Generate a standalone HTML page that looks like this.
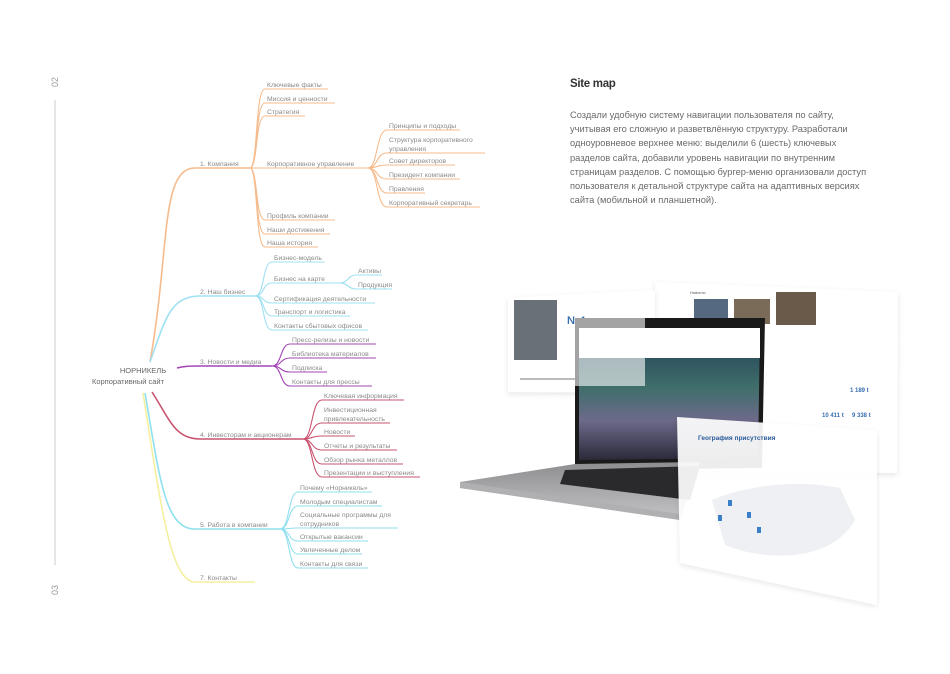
<!DOCTYPE html>
<html><head><meta charset="utf-8"><style>
html,body{margin:0;padding:0;background:#fff;}
body{width:950px;height:674px;overflow:hidden;position:relative;font-family:"Liberation Sans","DejaVu Sans",sans-serif;}
svg text{font-family:"Liberation Sans","DejaVu Sans",sans-serif;}
.t{font-size:6.8px;fill:#8a8a8a;}
.p{position:absolute;left:570px;top:108px;width:300px;font-size:9.3px;line-height:14.2px;color:#6a6a6a;}
.h{position:absolute;left:570px;top:78px;font-size:11.5px;font-weight:bold;color:#333;letter-spacing:-0.3px;}
</style></head><body>
<div class="h">Site map</div>
<div class="p">Создали удобную систему навигации пользователя по сайту, учитывая его сложную и разветвлённую структуру. Разработали одноуровневое верхнее меню: выделили 6 (шесть) ключевых разделов сайта, добавили уровень навигации по внутренним страницам разделов. С помощью бургер-меню организовали доступ пользователя к детальной структуре сайта на адаптивных версиях сайта (мобильной и планшетной).</div>
<svg width="950" height="674" style="position:absolute;left:0;top:0" fill="none">
<text x="58" y="82" transform="rotate(-90 58 82)" style="font-size:9px;fill:#999" text-anchor="middle">02</text>
<line x1="55" y1="100" x2="55" y2="565" stroke="#ccc" stroke-width="1"/>
<text x="58" y="590" transform="rotate(-90 58 590)" style="font-size:9px;fill:#999" text-anchor="middle">03</text>
<text x="143" y="373" class="t" text-anchor="middle" style="font-size:7.5px;fill:#666">НОРНИКЕЛЬ</text>
<text x="128" y="384" class="t" text-anchor="middle" style="font-size:7.5px;fill:#666">Корпоративный сайт</text>

<g stroke="#f6bb8c" stroke-width="1.1">
<path d="M150,362 C170,250 160,168 195,168 H250" stroke-width="1.6"/>
<path d="M250,168 C258,168 255,89 265,89 H328"/>
<path d="M250,168 C258,168 255,103 265,103 H335"/>
<path d="M250,168 C258,168 255,116 265,116 H305"/>
<path d="M250,168 H368"/>
<path d="M250,168 C258,168 255,220 265,220 H335"/>
<path d="M250,168 C258,168 255,234 265,234 H330"/>
<path d="M250,168 C258,168 255,247 265,247 H318"/>
<path d="M368,168 C378,168 376,130 387,130 H460"/>
<path d="M368,168 C378,168 376,153 387,153 H485"/>
<path d="M368,168 C378,168 376,165 387,165 H455"/>
<path d="M368,168 C378,168 376,179 387,179 H460"/>
<path d="M368,168 C378,168 376,193 387,193 H425"/>
<path d="M368,168 C378,168 376,207 387,207 H480"/>
</g>
<text x="200" y="166" class="t">1. Компания</text>
<text x="267" y="87" class="t">Ключевые факты</text>
<text x="267" y="101" class="t">Миссия и ценности</text>
<text x="267" y="114" class="t">Стратегия</text>
<text x="267" y="166" class="t">Корпоративное управление</text>
<text x="267" y="218" class="t">Профиль компании</text>
<text x="267" y="232" class="t">Наши достижения</text>
<text x="267" y="245" class="t">Наша история</text>
<text x="389" y="128" class="t">Принципы и подходы</text>
<text x="389" y="142" class="t">Структура корпоративного</text>
<text x="389" y="151" class="t">управления</text>
<text x="389" y="163" class="t">Совет директоров</text>
<text x="389" y="177" class="t">Президент компании</text>
<text x="389" y="191" class="t">Правления</text>
<text x="389" y="205" class="t">Корпоративный секретарь</text>

<g stroke="#9fe0f2" stroke-width="1.1">
<path d="M150,362 C165,320 170,296 200,296 H255" stroke-width="1.6"/>
<path d="M255,296 C265,296 262,262 272,262 H325"/>
<path d="M255,296 C265,296 262,283 272,283 H340"/>
<path d="M255,296 C265,296 262,303 272,303 H375"/>
<path d="M255,296 C265,296 262,316 272,316 H350"/>
<path d="M255,296 C265,296 262,330 272,330 H368"/>
<path d="M340,283 C348,283 348,275 356,275 H382"/>
<path d="M340,283 C348,283 348,289 356,289 H392"/>
</g>
<text x="200" y="294" class="t">2. Наш бизнес</text>
<text x="274" y="260" class="t">Бизнес-модель</text>
<text x="274" y="281" class="t">Бизнес на карте</text>
<text x="358" y="273" class="t">Активы</text>
<text x="358" y="287" class="t">Продукция</text>
<text x="274" y="301" class="t">Сертификация деятельности</text>
<text x="274" y="314" class="t">Транспорт и логистика</text>
<text x="274" y="328" class="t">Контакты сбытовых офисов</text>

<g stroke="#a445b5" stroke-width="1.1">
<path d="M177,368 C185,366 190,366 200,366 H272" stroke-width="1.6"/>
<path d="M272,366 C282,366 280,344 290,344 H376"/>
<path d="M272,366 C282,366 280,358 290,358 H376"/>
<path d="M272,366 C282,366 280,372 290,372 H327"/>
<path d="M272,366 C282,366 280,386 290,386 H372"/>
</g>
<text x="200" y="364" class="t">3. Новости и медиа</text>
<text x="292" y="342" class="t">Пресс-релизы и новости</text>
<text x="292" y="356" class="t">Библиотека материалов</text>
<text x="292" y="370" class="t">Подписка</text>
<text x="292" y="384" class="t">Контакты для прессы</text>

<g stroke="#c9536f" stroke-width="1.1">
<path d="M152,392 C170,420 175,439 200,439 H303" stroke-width="1.6"/>
<path d="M303,439 C313,439 311,400 322,400 H404"/>
<path d="M303,439 C313,439 311,423 322,423 H390"/>
<path d="M303,439 C313,439 311,436 322,436 H355"/>
<path d="M303,439 C313,439 311,450 322,450 H397"/>
<path d="M303,439 C313,439 311,464 322,464 H403"/>
<path d="M303,439 C313,439 311,477 322,477 H420"/>
</g>
<text x="200" y="437" class="t">4. Инвесторам и акционерам</text>
<text x="324" y="398" class="t">Ключевая информация</text>
<text x="324" y="412" class="t">Инвестиционная</text>
<text x="324" y="421" class="t">привлекательность</text>
<text x="324" y="434" class="t">Новости</text>
<text x="324" y="448" class="t">Отчеты и результаты</text>
<text x="324" y="462" class="t">Обзор рынка металлов</text>
<text x="324" y="475" class="t">Презентации и выступления</text>

<g stroke="#8fe0ee" stroke-width="1.1">
<path d="M145,393 C160,480 165,529 195,529 H280" stroke-width="1.6"/>
<path d="M280,529 C290,529 288,492 298,492 H372"/>
<path d="M280,529 C290,529 288,506 298,506 H382"/>
<path d="M280,529 C290,529 288,528 298,528 H398"/>
<path d="M280,529 C290,529 288,541 298,541 H368"/>
<path d="M280,529 C290,529 288,554 298,554 H362"/>
<path d="M280,529 C290,529 288,568 298,568 H368"/>
</g>
<text x="200" y="527" class="t">5. Работа в компании</text>
<text x="300" y="490" class="t">Почему «Норникель»</text>
<text x="300" y="504" class="t">Молодым специалистам</text>
<text x="300" y="517" class="t">Социальные программы для</text>
<text x="300" y="526" class="t">сотрудников</text>
<text x="300" y="539" class="t">Открытые вакансии</text>
<text x="300" y="552" class="t">Увлеченные делом</text>
<text x="300" y="566" class="t">Контакты для связи</text>

<path d="M143,393 C160,500 170,582 195,582 H255" stroke="#f5f0a0" stroke-width="1.6"/>
<text x="200" y="580" class="t">7. Контакты</text>

<defs>
<linearGradient id="sky" x1="0" y1="0" x2="0" y2="1">
<stop offset="0" stop-color="#1e3a55"/><stop offset="0.45" stop-color="#3f6e6a"/><stop offset="0.7" stop-color="#6d6a8a"/><stop offset="1" stop-color="#2a2a3a"/></linearGradient>
<linearGradient id="base" x1="0" y1="0" x2="0" y2="1"><stop offset="0" stop-color="#8e8e90"/><stop offset="1" stop-color="#c4c4c6"/></linearGradient>
<filter id="sh" x="-10%" y="-10%" width="120%" height="130%"><feDropShadow dx="0" dy="2" stdDeviation="3" flood-color="#000" flood-opacity="0.1"/></filter>
</defs>
<polygon points="655,282 898,292 897,473 655,470" fill="#fff" filter="url(#sh)"/>
<polygon points="508,298 655,290 655,393 508,392" fill="#fff" filter="url(#sh)"/>
<rect x="514" y="300" width="43" height="60" fill="#6a7078"/>
<text x="567" y="324" style="font-size:11px;fill:#3a6fb0;font-weight:bold">№4</text>
<rect x="520" y="378" width="80" height="2" fill="#bbb"/>
<text x="690" y="294" style="font-size:4px;fill:#555">Новости</text>
<rect x="694" y="299" width="34" height="25" fill="#556a80"/><rect x="734" y="299" width="36" height="25" fill="#7a6a58"/><rect x="776" y="292" width="40" height="33" fill="#6a5a4a"/>
<text x="850" y="392" style="font-size:6px;fill:#3a6fb0;font-weight:bold">1 189 t</text>
<text x="822" y="417" style="font-size:6px;fill:#3a6fb0;font-weight:bold">10 411 t</text>
<text x="852" y="417" style="font-size:6px;fill:#3a6fb0;font-weight:bold">9 338 t</text>
<polygon points="575,318 765,318 762,468 575,470" fill="#1a1a1a"/>
<polygon points="579,328 760,328 758,458 579,460" fill="url(#sky)"/>
<rect x="579" y="328" width="181" height="30" fill="#fff"/>
<polygon points="460,482 575,464 700,462 680,520 460,488" fill="url(#base)"/>
<polygon points="565,470 700,466 690,500 560,484" fill="#2a2a2c"/>
<polygon points="460,488 680,520 680,514 460,482" fill="#b0b0b2"/>
<rect x="575" y="318" width="70" height="68" fill="#fff" opacity="0.6"/>
<polygon points="677,417 877,430 877,605 680,563" fill="#fff" opacity="0.92" filter="url(#sh)"/>
<text x="698" y="440" style="font-size:6.5px;fill:#2a5a9a;font-weight:bold">География присутствия</text>
<path d="M712,500 C740,488 790,478 840,488 L855,520 C830,565 760,560 725,545 Z" fill="#eef0f3"/>
<rect x="718" y="515" width="4" height="6" fill="#3a7fc8"/><rect x="728" y="500" width="4" height="6" fill="#3a7fc8"/><rect x="747" y="512" width="4" height="6" fill="#3a7fc8"/><rect x="757" y="527" width="4" height="6" fill="#3a7fc8"/>
</svg>
</body></html>
